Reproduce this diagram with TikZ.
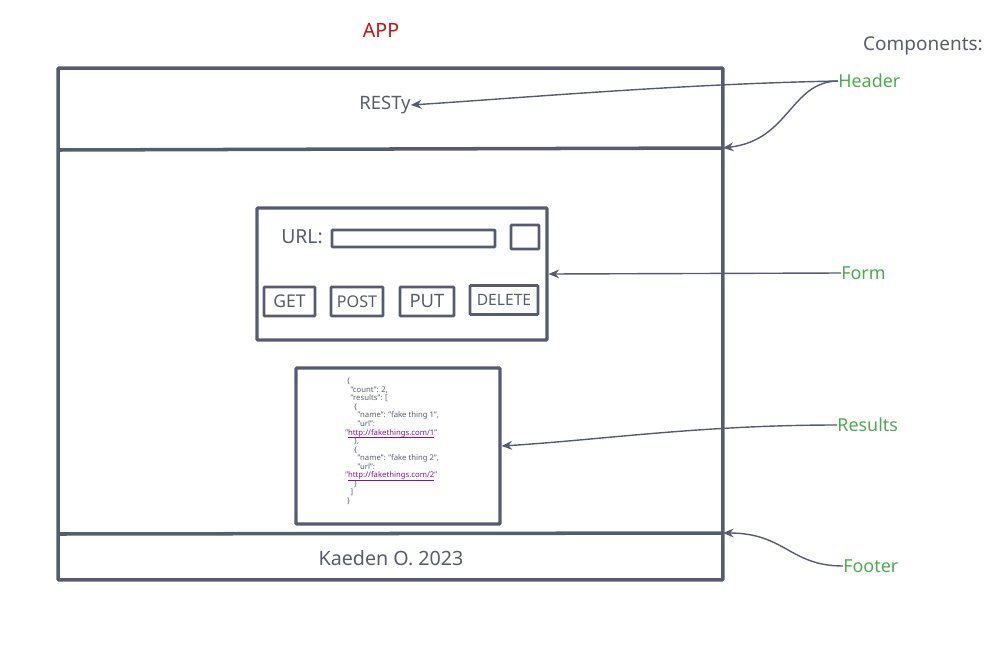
\documentclass[tikz,border=0pt]{standalone}
\usepackage{fontspec}
\setmainfont{Noto Sans}
\definecolor{app_line}{RGB}{86, 92, 110}
\definecolor{app_text}{RGB}{88, 93, 108}
\definecolor{app_green}{RGB}{76, 172, 80}
\definecolor{app_red}{RGB}{200, 20, 20}
\definecolor{app_link}{RGB}{130, 20, 140}
\usepackage{tikz}
\usetikzlibrary{arrows.meta, positioning, calc}
\newcommand{\lien}[1]{{\color{app_link}\smash{\underline{\smash{#1}}}}}

\begin{document}
\begin{tikzpicture}[x=0.02cm, y=-0.02cm,
    cadre/.style={draw=app_line, line width=1.8pt, inner sep=0pt, rounded corners=0.5pt},
    bouton/.style={cadre, line width=1.6pt, text=app_text},
    etiq/.style={text=app_green, inner sep=0pt, font=\fontsize{10.2}{12}\selectfont},
    fleche/.style={-{Stealth[length=6pt, width=5pt]}, app_line, line width=0.8pt}]
        \useasboundingbox (0,0) rectangle (992,653);
        % Titres
        \node[text=app_red, font=\fontsize{11.2}{13}\selectfont] (titre) at (381,30) {APP};
        \node[text=app_text, font=\fontsize{10.8}{13}\selectfont] (compo) at (923,46) {Components:};
        % Cadre de l'application
        \node[cadre, line width=2pt, minimum width=13.3cm, minimum height=10.24cm] (app) at (390.5,324) {};
        \coordinate (hdr) at (723,148);
        \coordinate (ftr) at (723,533);
        \draw[app_line, line width=2pt] (58,150) -- (hdr);
        \draw[app_line, line width=2pt] (58,534) -- (ftr);
        \node[text=app_text, font=\fontsize{10.5}{12}\selectfont, inner sep=0pt] (resty) at (385,105) {RESTy};
        \node[text=app_text, font=\fontsize{11.2}{13}\selectfont] (auteur) at (391,558) {Kaeden O. 2023};
        % Formulaire
        \node[cadre, minimum width=5.8cm, minimum height=2.64cm] (form) at (402,274) {};
        \node[text=app_text, font=\fontsize{11}{13}\selectfont] (url) at (302,237) {URL:};
        \node[cadre, line width=1.6pt, minimum width=3.26cm, minimum height=0.34cm] (champ) at (413.5,238.5) {};
        \node[cadre, line width=1.6pt, minimum width=0.56cm, minimum height=0.48cm] (envoi) at (525,237) {};
        \node[bouton, minimum width=1.02cm, minimum height=0.58cm, font=\fontsize{10}{12}\selectfont] (get) at (289.5,301.5) {GET};
        \node[bouton, minimum width=1.04cm, minimum height=0.58cm, font=\fontsize{9.2}{11}\selectfont] (post) at (357,301.5) {POST};
        \node[bouton, minimum width=1.08cm, minimum height=0.58cm, font=\fontsize{10.5}{12}\selectfont] (put) at (427,301.5) {PUT};
        \node[bouton, minimum width=1.36cm, minimum height=0.58cm, font=\fontsize{8.9}{10}\selectfont] (delete) at (504,300) {DELETE};
        % Résultats
        \node[cadre, minimum width=4.08cm, minimum height=3.12cm] (res) at (398,446) {};
        \node[anchor=north west, inner sep=0pt, text=app_text, align=left,
          font=\fontsize{4.4}{4.85}\selectfont] (json) at (345,378) {%
          \hspace{1pt}\{\\
          \hspace{3pt}"count": 2,\\
          \hspace{3pt}"results": [\\
          \hspace{5pt}\{\\
          \hspace{7pt}"name": "fake thing 1",\\
          \hspace{7pt}"url":\\
          "\lien{http://fakethings.com/1}"\\
          \hspace{5pt}\},\\
          \hspace{5pt}\{\\
          \hspace{7pt}"name": "fake thing 2",\\
          \hspace{7pt}"url":\\
          "\lien{http://fakethings.com/2}"\\
          \hspace{5pt}\}\\
          \hspace{3pt}]\\
          \hspace{1pt}\}};
        % Composants
        \node[etiq, anchor=west] (header) at (838,81) {Header};
        \node[etiq, anchor=west] (formlab) at (841,273) {Form};
        \node[etiq, anchor=west] (reslab) at (837,425) {Results};
        \node[etiq, anchor=west] (footer) at (843,566) {Footer};
        \draw[fleche] (header.west) .. controls (680,84) and (520,98) .. (resty.east);
        \draw[fleche] (header.west) .. controls (790,82) and (790,140) .. (hdr);
        \draw[fleche] (formlab.west) -- (form.east);
        \draw[fleche] (reslab.west) .. controls (700,425) and (600,440) .. (res.east);
        \draw[fleche] (footer.west) .. controls (790,566) and (785,533) .. (ftr);
      \end{tikzpicture}
\end{document}
